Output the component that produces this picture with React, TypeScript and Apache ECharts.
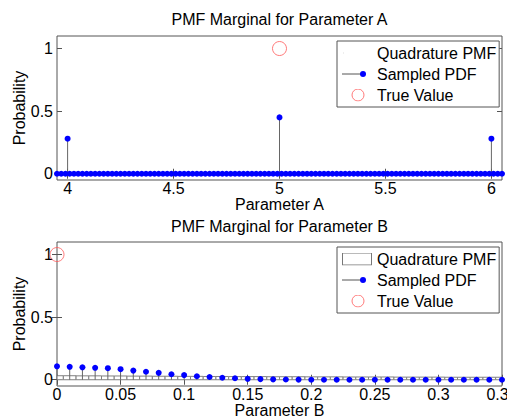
import React, { useEffect, useRef } from 'react';
import * as echarts from 'echarts';

const titleA = 'PMF Marginal for Parameter A';
const titleB = 'PMF Marginal for Parameter B';
const xNameA = 'Parameter A';
const xNameB = 'Parameter B';
const yName = 'Probability';
const nameQuad = 'Quadrature PMF';
const nameSampled = 'Sampled PDF';
const nameTrue = 'True Value';

const xTicksA = [4, 4.5, 5, 5.5, 6];
const xTicksB = [0, 0.05, 0.1, 0.15, 0.2, 0.25, 0.3, 0.35];
const xLabelsB = ['0', '0.05', '0.1', '0.15', '0.2', '0.25', '0.3', '0.35'];
const yTicks = [0, 0.5, 1];

// Parameter A: samples that are zero (dense band along the baseline)
const sampledAZeroX = [
  3.95, 3.97, 3.99,
  4.01, 4.03, 4.05, 4.07, 4.09, 4.11, 4.13, 4.15, 4.17, 4.19,
  4.21, 4.23, 4.25, 4.27, 4.29, 4.31, 4.33, 4.35, 4.37, 4.39,
  4.41, 4.43, 4.45, 4.47, 4.49, 4.51, 4.53, 4.55, 4.57, 4.59,
  4.61, 4.63, 4.65, 4.67, 4.69, 4.71, 4.73, 4.75, 4.77, 4.79,
  4.81, 4.83, 4.85, 4.87, 4.89, 4.91, 4.93, 4.95, 4.97, 4.99,
  5.01, 5.03, 5.05, 5.07, 5.09, 5.11, 5.13, 5.15, 5.17, 5.19,
  5.21, 5.23, 5.25, 5.27, 5.29, 5.31, 5.33, 5.35, 5.37, 5.39,
  5.41, 5.43, 5.45, 5.47, 5.49, 5.51, 5.53, 5.55, 5.57, 5.59,
  5.61, 5.63, 5.65, 5.67, 5.69, 5.71, 5.73, 5.75, 5.77, 5.79,
  5.81, 5.83, 5.85, 5.87, 5.89, 5.91, 5.93, 5.95, 5.97, 5.99,
  6.01, 6.03, 6.05,
];
const sampledAZeroY = sampledAZeroX.map(() => 0);
// Parameter A: non-zero samples
const peakAX = [4, 5, 6];
const peakAY = [0.28, 0.45, 0.28];
const trueAX = [5];
const trueAY = [1];

// Parameter B
const sampledBX = [
  0, 0.01, 0.02, 0.03, 0.04, 0.05, 0.06, 0.07, 0.08, 0.09,
  0.1, 0.11, 0.12, 0.13, 0.14, 0.15, 0.16, 0.17, 0.18, 0.19,
  0.2, 0.21, 0.22, 0.23, 0.24, 0.25, 0.26, 0.27, 0.28, 0.29,
  0.3, 0.31, 0.32, 0.33, 0.34, 0.35,
];
const sampledBY = [
  0.107, 0.103, 0.099, 0.095, 0.092, 0.084, 0.073, 0.064, 0.055, 0.044,
  0.037, 0.028, 0.022, 0.016, 0.012, 0.007, 0.005, 0.003, 0.002, 0.001,
  0, 0, 0, 0, 0, 0, 0, 0, 0, 0,
  0, 0, 0, 0, 0, 0,
];
const quadBY = [
  0.032, 0.032, 0.031, 0.031, 0.030, 0.030, 0.029, 0.029, 0.028, 0.028,
  0.027, 0.027, 0.026, 0.026, 0.025, 0.025, 0.025, 0.024, 0.024, 0.024,
  0.023, 0.023, 0.023, 0.022, 0.022, 0.022, 0.022, 0.021, 0.021, 0.021,
  0.021, 0.020, 0.020, 0.020, 0.020, 0.020,
];
const trueBX = [0];
const trueBY = [1];

const FONT = 'Liberation Sans';
const FS = 16;
const AXIS_COLOR = '#555';
const BLUE = '#0000ff';
const STEM = '#666';
const RED = '#ff5a5a';

function svgIcon(inner: string): string {
  const svg = `<svg xmlns="http://www.w3.org/2000/svg" width="30" height="13" viewBox="0 0 30 13">${inner}</svg>`;
  return 'image://data:image/svg+xml;charset=utf-8,' + encodeURIComponent(svg);
}

const iconSampled = svgIcon(
  `<line x1="0" y1="6.5" x2="21" y2="6.5" stroke="#555" stroke-width="1"/><circle cx="21" cy="6.5" r="3" fill="${BLUE}"/>`
);
const iconTrue = svgIcon(
  `<circle cx="16" cy="6.5" r="6" fill="none" stroke="${RED}" stroke-width="1"/>`
);
const iconQuadEmpty = svgIcon(`<rect x="1" y="6" width="1" height="1" fill="#ddd"/>`);
const iconQuadBar = svgIcon(
  `<rect x="0.5" y="0.5" width="29" height="12" fill="#fff" stroke="#777" stroke-width="1"/>`
);

function stemRender(params: any, api: any) {
  const x = api.value(0);
  const y = api.value(1);
  const top = api.coord([x, y]);
  const base = api.coord([x, 0]);
  return {
    type: 'line',
    shape: { x1: top[0], y1: top[1], x2: base[0], y2: base[1] },
    style: { stroke: STEM, lineWidth: 1 },
  };
}

function barRender(params: any, api: any) {
  const x = api.value(0);
  const y = api.value(1);
  const w = api.size([0.01, 0])[0];
  const top = api.coord([x, y]);
  const base = api.coord([x, 0]);
  return {
    type: 'rect',
    shape: { x: top[0] - w / 2, y: top[1], width: w, height: base[1] - top[1] },
    style: { fill: '#fff', stroke: '#808080', lineWidth: 1 },
  };
}

function xAxisMain(gridIndex: number, min: number, max: number, ticks: number[], name: string, labels?: string[]) {
  return {
    type: 'value',
    gridIndex,
    position: 'bottom',
    min,
    max,
    name,
    nameLocation: 'middle',
    nameGap: 16,
    nameMoveOverlap: false,
    nameTextStyle: { fontFamily: FONT, fontSize: FS, color: '#000' },
    axisLine: { show: false },
    splitLine: { show: false },
    axisTick: { show: true, inside: true, length: 5, customValues: ticks, lineStyle: { color: AXIS_COLOR } },
    axisLabel: {
      show: true,
      customValues: ticks,
      margin: 0,
      fontFamily: FONT,
      fontSize: FS,
      color: '#000',
      formatter: labels ? (v: number) => labels[ticks.findIndex((t) => Math.abs(t - v) < 1e-9)] ?? String(v) : undefined,
    },
  };
}

function xAxisMirror(gridIndex: number, min: number, max: number, ticks: number[]) {
  return {
    type: 'value',
    gridIndex,
    position: 'top',
    min,
    max,
    axisLine: { show: false },
    splitLine: { show: false },
    axisTick: { show: true, inside: true, length: 5, customValues: ticks, lineStyle: { color: AXIS_COLOR } },
    axisLabel: { show: false },
  };
}

function yAxisMain(gridIndex: number) {
  return {
    type: 'value',
    gridIndex,
    position: 'left',
    min: -0.05,
    max: 1.1,
    name: yName,
    nameLocation: 'middle',
    nameGap: 30,
    nameMoveOverlap: false,
    nameTextStyle: { fontFamily: FONT, fontSize: FS, color: '#000' },
    axisLine: { show: false },
    splitLine: { show: false },
    axisTick: { show: true, inside: true, length: 5, customValues: yTicks, lineStyle: { color: AXIS_COLOR } },
    axisLabel: { show: true, customValues: yTicks, margin: 4, fontFamily: FONT, fontSize: FS, color: '#000' },
  };
}

function yAxisMirror(gridIndex: number) {
  return {
    type: 'value',
    gridIndex,
    position: 'right',
    min: -0.05,
    max: 1.1,
    axisLine: { show: false },
    splitLine: { show: false },
    axisTick: { show: true, inside: true, length: 5, customValues: yTicks, lineStyle: { color: AXIS_COLOR } },
    axisLabel: { show: false },
  };
}

function legend(top: number, quadIcon: string) {
  return {
    orient: 'vertical',
    left: 337,
    top,
    itemWidth: 30,
    itemHeight: 13,
    itemGap: 5,
    padding: [4, 3, 4, 5],
    borderColor: AXIS_COLOR,
    borderWidth: 1,
    backgroundColor: '#fff',
    selectedMode: false,
    textStyle: { fontFamily: FONT, fontSize: FS, color: '#000' },
    data: [
      { name: nameQuad, icon: quadIcon },
      { name: nameSampled, icon: iconSampled },
      { name: nameTrue, icon: iconTrue },
    ],
  };
}

export default function App() {
  const ref = useRef<HTMLDivElement>(null);

  useEffect(() => {
    if (!ref.current) return;
    const chart = echarts.init(ref.current, undefined, { renderer: 'svg' });

    const zeroA = sampledAZeroX.map((x, i) => [x, sampledAZeroY[i]]);
    const peaksA = peakAX.map((x, i) => [x, peakAY[i]]);
    const sampledB = sampledBX.map((x, i) => [x, sampledBY[i]]);
    const quadB = sampledBX.map((x, i) => [x, quadBY[i]]);

    const option: any = {
      animation: false,
      backgroundColor: '#fff',
      textStyle: { fontFamily: FONT },
      title: [
        {
          text: titleA,
          left: 279.5,
          top: 11,
          textAlign: 'center',
          padding: 0,
          textStyle: { fontFamily: FONT, fontSize: FS, fontWeight: 'normal', color: '#000' },
        },
        {
          text: titleB,
          left: 279.5,
          top: 218,
          textAlign: 'center',
          padding: 0,
          textStyle: { fontFamily: FONT, fontSize: FS, fontWeight: 'normal', color: '#000' },
        },
      ],
      grid: [
        { left: 57, top: 36, width: 445, height: 144, show: true, borderColor: AXIS_COLOR, borderWidth: 1, backgroundColor: '#fff', containLabel: false, outerBoundsMode: 'none' },
        { left: 57, top: 242, width: 445, height: 144, show: true, borderColor: AXIS_COLOR, borderWidth: 1, backgroundColor: '#fff', containLabel: false, outerBoundsMode: 'none' },
      ],
      xAxis: [
        xAxisMain(0, 3.95, 6.05, xTicksA, xNameA),
        xAxisMirror(0, 3.95, 6.05, xTicksA),
        xAxisMain(1, 0, 0.35, xTicksB, xNameB, xLabelsB),
        xAxisMirror(1, 0, 0.35, xTicksB),
      ],
      yAxis: [yAxisMain(0), yAxisMirror(0), yAxisMain(1), yAxisMirror(1)],
      legend: [legend(41, iconQuadEmpty), legend(247, iconQuadBar)],
      series: [
        // Panel A
        {
          name: nameQuad,
          type: 'custom',
          xAxisIndex: 0,
          yAxisIndex: 0,
          renderItem: barRender,
          data: [],
          itemStyle: { color: '#fff' },
        },
        {
          name: 'stemsA',
          type: 'custom',
          xAxisIndex: 0,
          yAxisIndex: 0,
          renderItem: stemRender,
          data: peaksA,
          z: 2,
        },
        {
          name: nameSampled,
          type: 'scatter',
          xAxisIndex: 0,
          yAxisIndex: 0,
          symbol: 'circle',
          symbolSize: 6,
          itemStyle: { color: BLUE, opacity: 1 },
          data: [...zeroA, ...peaksA],
          z: 3,
        },
        {
          name: nameTrue,
          type: 'scatter',
          xAxisIndex: 0,
          yAxisIndex: 0,
          symbol: 'circle',
          symbolSize: 14,
          clip: false,
          itemStyle: { color: 'transparent', borderColor: RED, borderWidth: 1 },
          data: trueAX.map((x, i) => [x, trueAY[i]]),
          z: 4,
        },
        // Panel B
        {
          name: nameQuad,
          type: 'custom',
          xAxisIndex: 2,
          yAxisIndex: 2,
          renderItem: barRender,
          clip: true,
          data: quadB,
          itemStyle: { color: '#fff' },
          z: 1,
        },
        {
          name: 'stemsB',
          type: 'custom',
          xAxisIndex: 2,
          yAxisIndex: 2,
          renderItem: stemRender,
          data: sampledB,
          z: 2,
        },
        {
          name: nameSampled,
          type: 'scatter',
          xAxisIndex: 2,
          yAxisIndex: 2,
          symbol: 'circle',
          symbolSize: 6,
          itemStyle: { color: BLUE, opacity: 1 },
          data: sampledB,
          z: 3,
        },
        {
          name: nameTrue,
          type: 'scatter',
          xAxisIndex: 2,
          yAxisIndex: 2,
          symbol: 'circle',
          symbolSize: 14,
          clip: false,
          itemStyle: { color: 'transparent', borderColor: RED, borderWidth: 1 },
          data: trueBX.map((x, i) => [x, trueBY[i]]),
          z: 4,
        },
      ],
    };

    chart.setOption(option);
    return () => {
      chart.dispose();
    };
  }, []);

  return (
    <div
      ref={ref}
      style={{ position: 'absolute', left: 0, top: 0, width: 507, height: 420, background: '#fff' }}
    />
  );
}
